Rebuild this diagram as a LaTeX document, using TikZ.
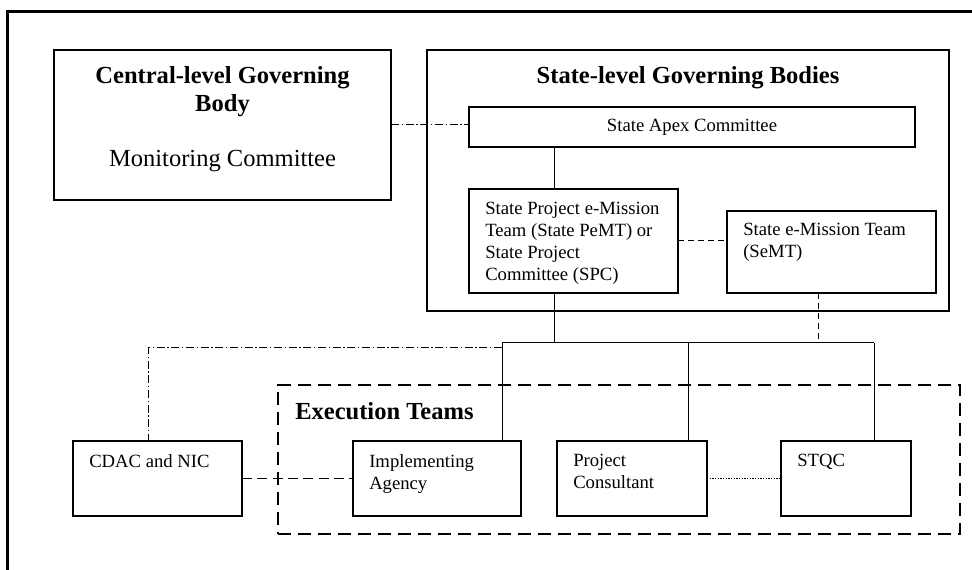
\documentclass[tikz,border=0pt]{standalone}
\usepackage{fontspec}
\setmainfont{Liberation Serif}
\usetikzlibrary{positioning, calc}

\begin{document}
\begin{tikzpicture}[x=0.75pt,y=-0.75pt,
		govbox/.style={draw,rectangle,line width=2pt,inner sep=0pt,outer sep=0pt},
		unitbox/.style={draw,rectangle,line width=.8pt,inner sep=0pt,outer sep=0pt,minimum height=56.25pt},
		boxtxt/.style={anchor=north west,align=left,inner xsep=12pt,inner ysep=10pt,font=\fontsize{14}{16.5}\selectfont},
		headtxt/.style={anchor=north,align=center,inner ysep=12pt,font=\fontsize{18.4}{21}\selectfont\bfseries},
		link/.style={line width=.75pt},
		dashdot/.style={dash pattern=on 6pt off 2pt on 1pt off 2pt},
		shortdash/.style={dash pattern=on 4.5pt off 3pt},
		longdash/.style={dash pattern=on 7.5pt off 4pt},
		dots/.style={line width=1.1pt,dash pattern=on 1pt off 1pt}
		]
	\useasboundingbox (0,0) rectangle (972,570);
	\draw [line width=2.25pt] (7,575) |- (980,12);

	% governing bodies
	\node (central) [govbox,minimum width=252.75pt,minimum height=112.5pt,anchor=north west,
		label={[headtxt]north:Central-level Governing\\Body\\[20.25pt]\textmd{Monitoring Committee}}] at (54,50) {};
	\node (state) [govbox,minimum width=391.5pt,minimum height=195.75pt,anchor=north west,
		label={[headtxt]north:State-level Governing Bodies}] at (427,50) {};
	\node (apex) [unitbox,minimum width=334.5pt,minimum height=30pt,anchor=north west,font=\fontsize{14}{16.5}\selectfont] at (469,107) {State Apex Committee};
	\node (spemt) [unitbox,minimum width=156.75pt,minimum height=78pt,anchor=north west,
		label={[boxtxt]north west:State Project e-Mission\\Team (State PeMT) or\\State Project\\Committee (SPC)}] at (469,189) {};
	\node (semt) [unitbox,minimum width=156.75pt,minimum height=61.5pt,anchor=south west,
		label={[boxtxt,inner ysep=9pt]north west:State e-Mission Team\\(SeMT)}] at ([xshift=36.75pt]spemt.south east) {};

	% execution teams
	\node (exec) [draw,line width=2pt,dash pattern=on 10pt off 5pt,inner sep=0pt,outer sep=0pt,minimum width=511.5pt,minimum height=111.75pt,anchor=north west,
		label={[headtxt,anchor=north west,inner xsep=12.75pt,inner ysep=13pt]north west:Execution Teams}] at (278,385) {};
	\node (cdac) [unitbox,minimum width=126.75pt,anchor=north west,label={[boxtxt]north west:CDAC and NIC}] at (73,441) {};
	\node (impl) [unitbox,minimum width=126pt,right=83.25pt of cdac,label={[boxtxt]north west:Implementing\\Agency}] {};
	\node (pc) [unitbox,minimum width=112.5pt,right=27pt of impl,label={[boxtxt]north west:Project\\Consultant}] {};
	\node (stqc) [unitbox,minimum width=97.5pt,right=55.5pt of pc,label={[boxtxt]north west:STQC}] {};

	% connectors
	\coordinate (stem) at (554,0);
	\coordinate (busL) at (502,343);
	\coordinate (busM) at (688,343);
	\coordinate (busR) at (874,343);
	\coordinate (semtdrop) at (818,0);
	\coordinate (cdacup) at (148,348);
	\draw [link,dashdot] (central.east) -- (central.east -| apex.west);
	\draw [link] (apex.south -| stem) -- (spemt.north -| stem);
	\draw [link,shortdash] (spemt) -- (semt.west |- spemt);
	\draw [link] (spemt.south -| stem) -- (stem |- busL);
	\draw [link,shortdash] (semt.south -| semtdrop) -- (semtdrop |- busL);
	\draw [link] (busL) -- (busR);
	\draw [link] (busL) -- (busL |- impl.north);
	\draw [link] (busM) -- (busM |- pc.north);
	\draw [link] (busR) -- (busR |- stqc.north);
	\draw [link,dashdot] (busL |- cdacup) -- (cdacup) -- (cdacup |- cdac.north);
	\draw [link,longdash] (cdac) -- (impl);
	\draw [dots] (pc) -- (stqc);
\end{tikzpicture}
\end{document}
